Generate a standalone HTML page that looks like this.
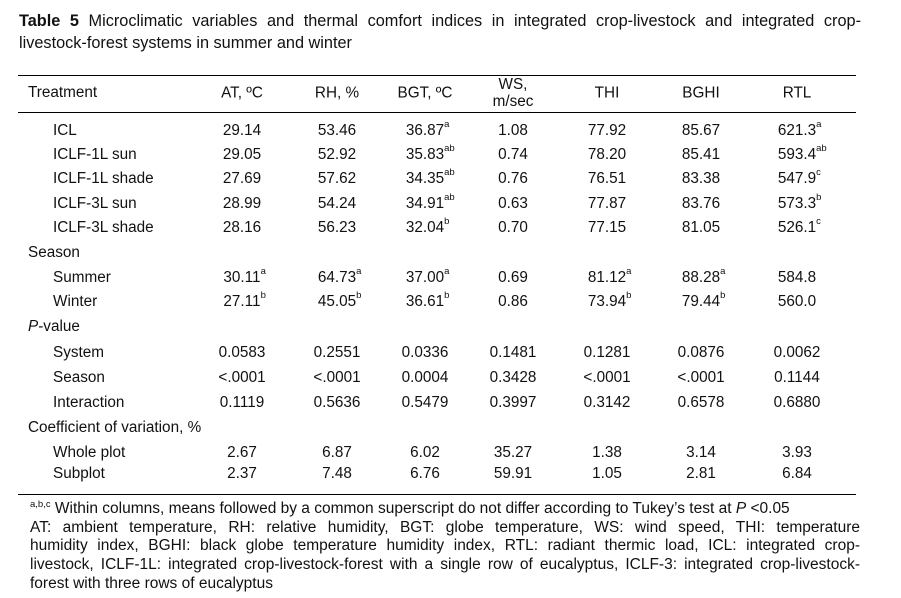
<!DOCTYPE html>
<html><head><meta charset="utf-8"><style>
body{margin:0;width:901px;height:598px;background:#fff;font-family:"Liberation Sans",sans-serif;color:#111;position:relative;overflow:hidden}
.t{position:absolute;font-size:16.3px;left:19px;line-height:22px;width:842px;text-align:justify;top:10px}
.hl{position:absolute;left:18px;width:838px;height:1px;background:#000}
.c{position:absolute;font-size:15.3px;white-space:nowrap;transform:translate(-50%,-50%)}
.l{position:absolute;font-size:15.3px;white-space:nowrap;transform:translateY(-50%)}
.c sup{position:absolute;left:100%;top:-3px;font-size:9.5px}
.fn{position:absolute;left:30px;width:830px;font-size:15.5px;line-height:18.6px;top:496px}
.fn div{white-space:nowrap}
.fn .j{text-align:justify;text-align-last:justify}
.fn sup{font-size:9.5px}
</style></head><body>
<div class="t"><b>Table 5</b> Microclimatic variables and thermal comfort indices in integrated crop-livestock and integrated crop-livestock-forest systems in summer and winter</div>
<div class="hl" style="top:75px"></div>
<div class="hl" style="top:112px"></div>
<div class="hl" style="top:494px"></div>
<div id="tb"></div>
<div class="fn">
<div><sup>a,b,c</sup> Within columns, means followed by a common superscript do not differ according to Tukey’s test at <i>P</i> &lt;0.05</div>
<div class="j" style="white-space:normal">AT: ambient temperature, RH: relative humidity, BGT: globe temperature, WS: wind speed, THI: temperature</div>
<div class="j" style="white-space:normal">humidity index, BGHI: black globe temperature humidity index, RTL: radiant thermic load, ICL: integrated crop-</div>
<div class="j" style="white-space:normal">livestock, ICLF-1L: integrated crop-livestock-forest with a single row of eucalyptus, ICLF-3: integrated crop-livestock-</div>
<div>forest with three rows of eucalyptus</div>
</div>
<script>
const cols=[242,337,425,513,607,701,797];
const headers=["AT, ºC","RH, %","BGT, ºC","WS,<br>m/sec","THI","BGHI","RTL"];
const rowY=[131,155,179,204,228,253,278,302,327,353,378,403,428,453,474];
const labels=["ICL","ICLF-1L sun","ICLF-1L shade","ICLF-3L sun","ICLF-3L shade","Season","Summer","Winter","<i>P</i>-value","System","Season","Interaction","Coefficient of variation, %","Whole plot","Subplot"];
const indent=[1,1,1,1,1,0,1,1,0,1,1,1,0,1,1];
const values=[
["29.14","53.46","36.87|a","1.08","77.92","85.67","621.3|a"],
["29.05","52.92","35.83|ab","0.74","78.20","85.41","593.4|ab"],
["27.69","57.62","34.35|ab","0.76","76.51","83.38","547.9|c"],
["28.99","54.24","34.91|ab","0.63","77.87","83.76","573.3|b"],
["28.16","56.23","32.04|b","0.70","77.15","81.05","526.1|c"],
null,
["30.11|a","64.73|a","37.00|a","0.69","81.12|a","88.28|a","584.8"],
["27.11|b","45.05|b","36.61|b","0.86","73.94|b","79.44|b","560.0"],
null,
["0.0583","0.2551","0.0336","0.1481","0.1281","0.0876","0.0062"],
["<.0001","<.0001","0.0004","0.3428","<.0001","<.0001","0.1144"],
["0.1119","0.5636","0.5479","0.3997","0.3142","0.6578","0.6880"],
null,
["2.67","6.87","6.02","35.27","1.38","3.14","3.93"],
["2.37","7.48","6.76","59.91","1.05","2.81","6.84"]];
const tb=document.getElementById('tb');
const th=document.createElement('div');th.className='l';th.style.left='28px';th.style.top='93px';th.textContent='Treatment';


tb.appendChild(th);
headers.forEach((h,i)=>{const d=document.createElement('div');d.className='c';d.style.left=cols[i]+'px';d.style.top='93px';d.style.textAlign='center';d.style.lineHeight='17px';d.innerHTML=h;


tb.appendChild(d);});
labels.forEach((lb,r)=>{
const d=document.createElement('div');d.className='l';d.style.left=(indent[r]?53:28)+'px';d.style.top=rowY[r]+'px';d.innerHTML=lb;


tb.appendChild(d);
if(values[r])values[r].forEach((v,i)=>{const p=v.split('|');
const c=document.createElement('div');c.className='c';c.style.left=cols[i]+'px';c.style.top=rowY[r]+'px';
c.textContent=p[0];
if(p[1]){const s=document.createElement('sup');s.textContent=p[1];c.appendChild(s);}


tb.appendChild(c);});
});
</script>
</body></html>
